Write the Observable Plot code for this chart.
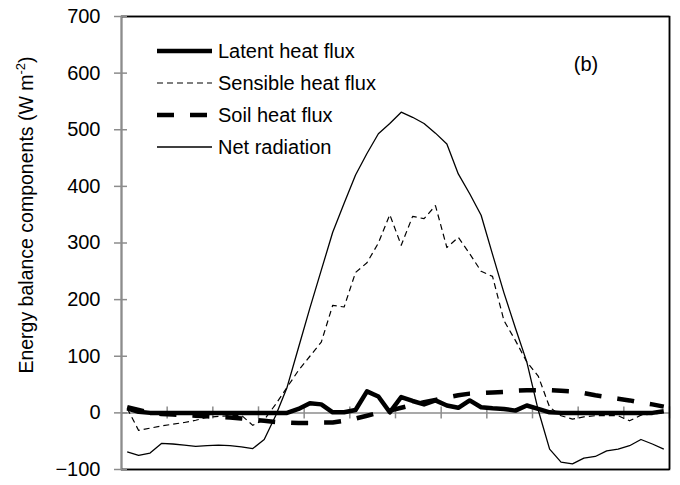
<!DOCTYPE html>
<html>
<head>
<meta charset="utf-8">
<script src="https://cdn.jsdelivr.net/npm/d3@7"></script>
<script src="https://cdn.jsdelivr.net/npm/@observablehq/plot@0.6"></script>
<style>
  body { margin: 0; background: #fff; }
  #chart { width: 680px; height: 485px; }
  svg text { font-family: Arial, "Liberation Sans", sans-serif; }
</style>
</head>
<body>
<div id="chart"></div>
<script>
// Half-hourly values (48 intervals over one day), W m-2
const latent   = [8, 2, 0, 0, 0, 0, 0, 0, 0, 0, 0, 0, 0, 0, 0, 7, 17, 15, 1, 1, 5, 38, 29, 1, 28, 21, 15, 22, 13, 9, 22, 10, 8, 7, 4, 13, 7, 1, 0, 0, 0, 0, 0, 0, 0, 0, 0, 3];
const sensible = [8, -31, -27, -23, -20, -17, -13, -8, -6, -5, -4, -22, -12, 15, 45, 75, 100, 125, 190, 187, 248, 265, 300, 350, 296, 347, 343, 366, 292, 310, 281, 250, 241, 163, 128, 90, 65, 10, -5, -11, -7, -5, -5, -5, -14, -4, -2, 0];
const soil     = [10, 5, 0, -2, -3, -4, -5, -6, -7, -8, -10, -12, -14, -16, -17, -18, -18, -17, -17, -14, -10, -5, 0, 4, 9, 14, 19, 23, 27, 31, 34, 35, 36, 37, 39, 40, 40, 40, 39, 38, 35, 31, 28, 25, 22, 18, 15, 11];
const net      = [-69, -75, -71, -54, -55, -57, -59, -58, -57, -58, -60, -63, -47, -5, 45, 115, 185, 252, 319, 370, 420, 458, 493, 511, 531, 522, 511, 494, 475, 422, 387, 349, 280, 212, 150, 90, 5, -64, -87, -90, -80, -77, -67, -64, -58, -47, -55, -64];

const seriesNames = ["Latent heat flux", "Sensible heat flux", "Soil heat flux", "Net radiation"];
const yTicks = [-100, 0, 100, 200, 300, 400, 500, 600, 700];
const xTicks = [4, 8, 12, 16, 20, 24, 28, 32, 36, 40, 44, 48];
const xDomain = [0, 48];
const yTitle = "Energy balance components (W m";
const ySup = "-2";
const panelLabel = "(b)";

const rows = latent.map((v, i) => ({i, latent: v, sensible: sensible[i], soil: soil[i], net: net[i]}));
const X = d => d.i + 0.5;

const seriesStyle = [
  {key: "latent",   strokeWidth: 4.5, dash: null},
  {key: "sensible", strokeWidth: 1.2, dash: "6,4"},
  {key: "soil",     strokeWidth: 4.5, dash: "17,16"},
  {key: "net",      strokeWidth: 1.3, dash: null}
];

const axisGray = "#8c8c8c";
const yMin = yTicks[0], yMax = yTicks[yTicks.length - 1];

const plot = Plot.plot({
  width: 680,
  height: 485,
  marginLeft: 121,
  marginRight: 11,
  marginTop: 16,
  marginBottom: 16,
  x: {domain: xDomain, axis: null},
  y: {domain: [yMin, yMax], axis: null},
  style: {fontFamily: "Arial, 'Liberation Sans', sans-serif", fontSize: "20px", overflow: "visible"},
  marks: [
    // horizontal category axis at y = 0
    Plot.ruleY([0], {stroke: axisGray, strokeWidth: 1.5}),
    Plot.ruleX(xTicks, {x: d => d, y1: 0, y2: 0, insetTop: -6, insetBottom: -6, stroke: axisGray, strokeWidth: 1.5}),
    ...seriesStyle.map(s => Plot.line(rows, {
      x: X, y: s.key, stroke: "#000", strokeWidth: s.strokeWidth,
      strokeDasharray: s.dash ?? undefined, strokeLinejoin: "round", strokeLinecap: "butt"
    })),
    // plot-area border
    Plot.frame({stroke: "#000", strokeWidth: 1.5, fill: "none"}),
    Plot.ruleY([yMin, yMax], {stroke: "#000", strokeWidth: 1.5}),
    Plot.ruleX([xDomain[1]], {stroke: "#000", strokeWidth: 1.5}),
    // vertical value axis
    Plot.ruleX([xDomain[0]], {stroke: axisGray, strokeWidth: 1.5}),
    Plot.axisY(yTicks, {tickSize: 13, dx: 6, stroke: axisGray, strokeWidth: 1.5, tickFormat: () => ""}),
    Plot.axisY(yTicks, {tickSize: 0, tickPadding: 21, fontSize: 20, fill: "#000"})
  ]
});

document.getElementById("chart").appendChild(plot);

const svg = d3.select(plot);

// Legend (inside plot area, top-left)
const lg = svg.append("g").attr("text-anchor", "start");
seriesStyle.forEach((s, k) => {
  const y = 51 + k * 32;
  lg.append("line")
    .attr("x1", 157).attr("x2", 212).attr("y1", y).attr("y2", y)
    .attr("stroke", "#000").attr("stroke-width", s.strokeWidth)
    .attr("stroke-dasharray", s.dash ?? null);
  lg.append("text")
    .attr("x", 218).attr("y", y).attr("dy", "0.35em")
    .attr("text-anchor", "start")
    .attr("font-size", 20).attr("fill", "#000")
    .text(seriesNames[k]);
});

// Panel label
svg.append("text")
  .attr("x", 586).attr("y", 64).attr("dy", "0.35em")
  .attr("text-anchor", "middle").attr("font-size", 20).attr("fill", "#000")
  .text(panelLabel);

// Y axis title with superscript
const t = svg.append("text")
  .attr("transform", "translate(33,215) rotate(-90)")
  .attr("text-anchor", "middle").attr("font-size", 19.5).attr("fill", "#000");
t.append("tspan").text(yTitle);
t.append("tspan").attr("font-size", 13).attr("dy", -8).text(ySup);
t.append("tspan").attr("dy", 8).text(")");
</script>
</body>
</html>
